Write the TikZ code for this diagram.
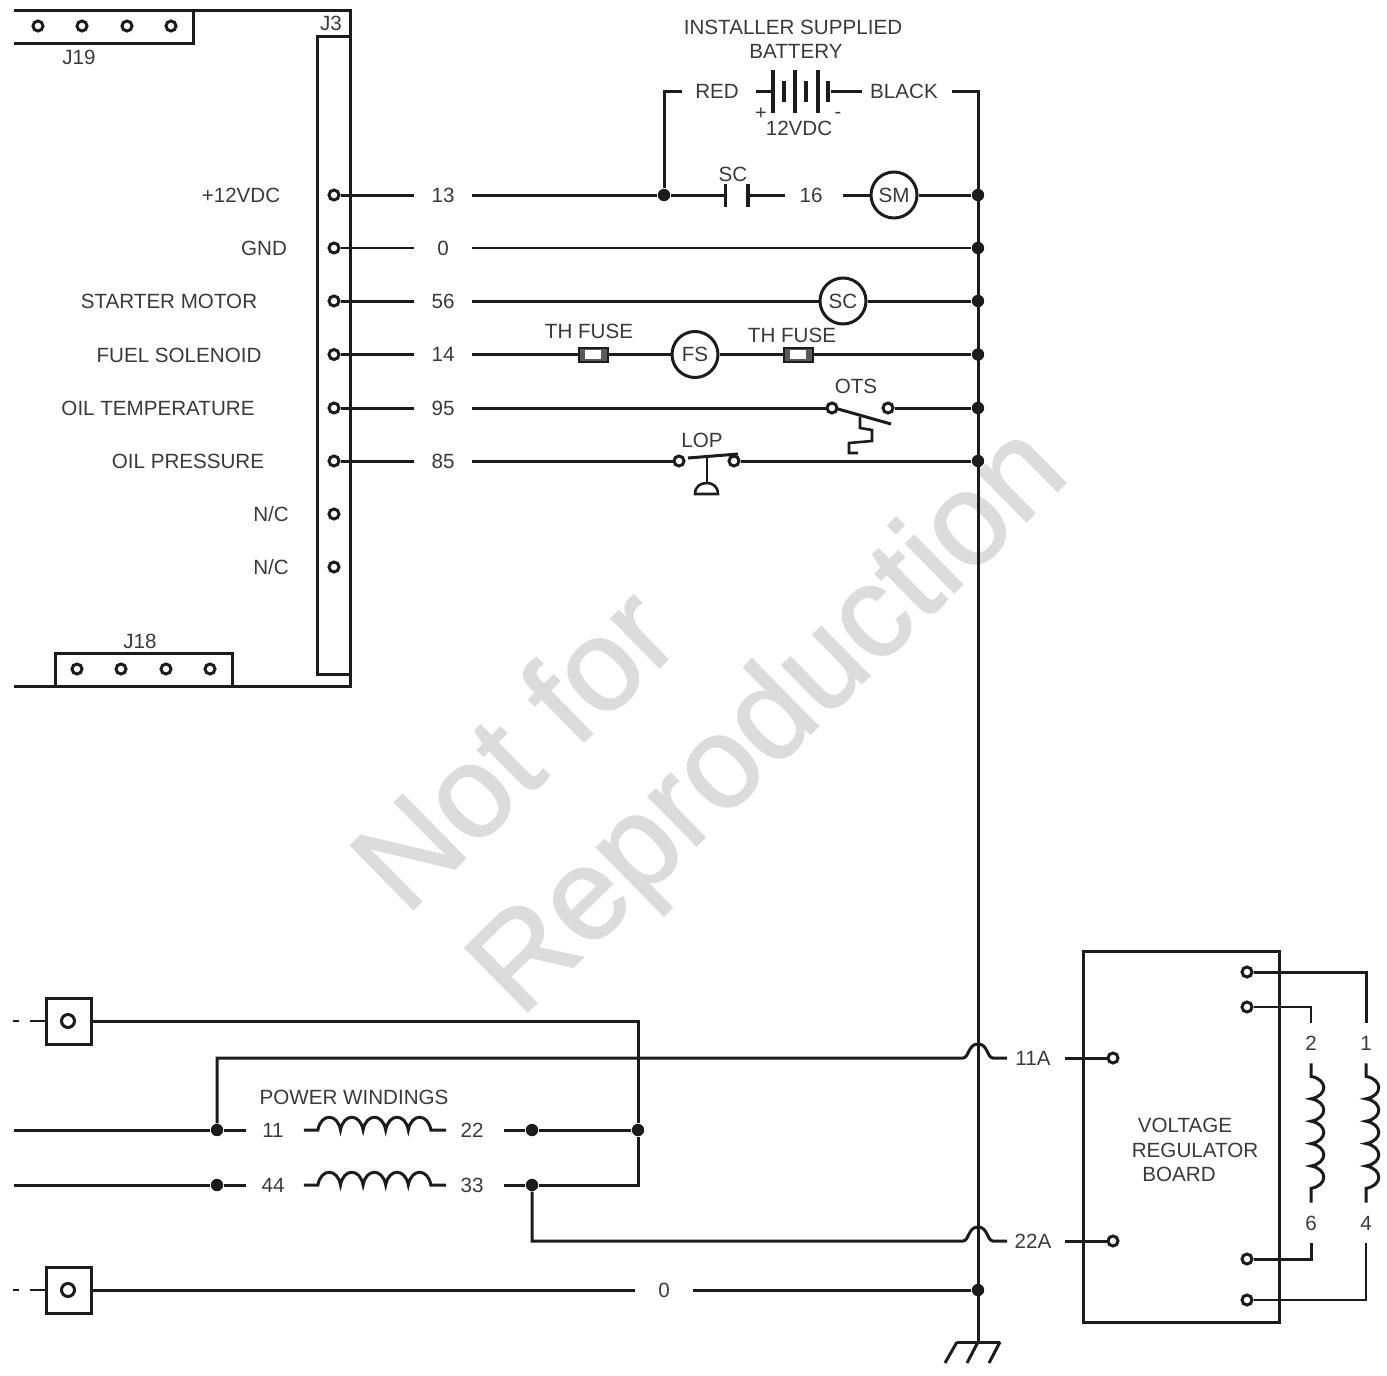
\documentclass[tikz,border=0pt]{standalone}
\usepackage{fontspec}
\setmainfont{Liberation Sans}
\newfontfamily\markfont[FakeBold=1.4]{Liberation Sans}
\definecolor{inkcol}{HTML}{1C1C1C}
\definecolor{txtcol}{HTML}{3A3A3A}
\definecolor{markcol}{HTML}{DCDCDC}

\begin{document}
\begin{tikzpicture}[x=0.5pt,y=-0.5pt,
    wire/.style={draw=inkcol,line width=1.5pt},
    thinwire/.style={draw=inkcol,line width=1pt},
    stub/.style={draw=inkcol,line width=0.9pt,dash pattern=on 7.5pt off 5.5pt on 3pt off 10pt},
    lbl/.style={font=\fontsize{10.3}{12}\selectfont,text=txtcol,inner sep=0pt},
    wnum/.style={lbl,minimum width=28.5pt,minimum height=10pt},
    term/.style={circle,draw=inkcol,line width=1.5pt,fill=white,minimum size=5pt,inner sep=0pt},
    jn/.style={circle,fill=inkcol,minimum size=6.2pt,inner sep=0pt},
    load/.style={lbl,circle,draw=inkcol,line width=1.5pt,fill=white,minimum size=23pt},
    stator/.style={draw=inkcol,line width=1.5pt,minimum width=22.5pt,minimum height=23pt,inner sep=0pt},
    plate/.style={fill=inkcol,minimum width=1.6pt,minimum height=21.5pt,inner sep=0pt},
    cell/.style={fill=inkcol,minimum width=2.4pt,minimum height=10.5pt,inner sep=0pt},
    contact/.style={fill=inkcol,minimum width=1.6pt,minimum height=11.5pt,inner sep=0pt},
    fusebody/.style={draw=inkcol,line width=1pt,fill=gray!70!black,minimum width=14.5pt,minimum height=7pt,inner sep=0pt},
    fusecore/.style={fill=white,minimum width=8pt,minimum height=4.5pt,inner sep=0pt},
    watermark/.style={rotate=44.5,anchor=base,font=\markfont\fontsize{65}{70}\selectfont,text=markcol,inner sep=0pt},
    hcoil/.style={to path={(\tikztostart) -- ++(14,0)
      .. controls +(3,-17) and +(-3,-17) .. ++(22.6,0)
      .. controls +(3,-17) and +(-3,-17) .. ++(22.6,0)
      .. controls +(3,-17) and +(-3,-17) .. ++(22.6,0)
      .. controls +(3,-17) and +(-3,-17) .. ++(22.6,0)
      .. controls +(3,-17) and +(-3,-17) .. ++(22.6,0)
      -- (\tikztotarget)}},
    vcoil/.style={to path={(\tikztostart) -- ++(0,13)
      .. controls +(17,3) and +(17,-3) .. ++(0,22.4)
      .. controls +(17,3) and +(17,-3) .. ++(0,22.4)
      .. controls +(17,3) and +(17,-3) .. ++(0,22.4)
      .. controls +(17,3) and +(17,-3) .. ++(0,22.4)
      .. controls +(17,3) and +(17,-3) .. ++(0,22.4)
      -- (\tikztotarget)}}]
  \useasboundingbox (0,0) rectangle (1387,1376);

  \node[watermark] (marka) at (545,780) {Not for};
  \node[watermark] (markb) at (796,748) {Reproduction};

  \coordinate (boardtl) at (14,10);
  \coordinate (boardtr) at (350,10);
  \coordinate (boardbr) at (350,686);
  \coordinate (boardbl) at (14,686);
  \draw[wire] (boardtl) -- (boardtr) -- (boardbr) -- (boardbl);
  \draw[wire] (14,43) -- (193,43) -- (193,10);
  \draw[wire] (350,36) -- (317,36) -- (317,674) -- (350,674);
  \draw[wire] (55,686) -- (55,653) -- (232,653) -- (232,686);
  \node[lbl] (jiii) at (331,23) {J3};
  \node[lbl] (jxix) at (79,57) {J19};
  \node[lbl] (jxviii) at (140,641) {J18};

  \foreach \name/\xx in {a/38,b/82,c/127,d/171}
    \node[term] (jxix\name) at (\xx,26) {};
  \foreach \name/\xx in {a/77,b/121,c/166,d/210}
    \node[term] (jxviii\name) at (\xx,669) {};
  \foreach \name/\yy in {vcc/195,gnd/248,sm/301,fs/354.5,ot/408,op/461,nca/514,ncb/567}
    \node[term] (t\name) at (334,\yy) {};

  \node[lbl] at (241,195) {+12VDC};
  \node[lbl] at (264,248) {GND};
  \node[lbl] at (169,301) {STARTER MOTOR};
  \node[lbl] at (179,355) {FUEL SOLENOID};
  \node[lbl] at (158,408) {OIL TEMPERATURE};
  \node[lbl] at (188,461) {OIL PRESSURE};
  \node[lbl] at (271,514) {N/C};
  \node[lbl] at (271,567) {N/C};

  \node[lbl] (instl) at (793,27) {INSTALLER SUPPLIED};
  \node[lbl] (batt) at (796,51) {BATTERY};
  \node[wnum,minimum width=37pt] (red) at (719,91) {RED\kern2pt};
  \node[wnum,minimum width=45pt] (black) at (907,91) {BLACK\kern3pt};
  \node[plate] (pa) at (773,91) {};
  \node[cell] (ca) at (784,91) {};
  \node[plate] (pb) at (795,91) {};
  \node[cell] (cb) at (806,91) {};
  \node[plate] (pc) at (818,91) {};
  \node[cell] (cc) at (828,91) {};
  \node[lbl,font=\fontsize{10}{10}\selectfont] (plus) at (761,114) {+};
  \node[lbl,font=\fontsize{10}{10}\selectfont] (minus) at (838,115) {-};
  \node[lbl] (volts) at (799,128) {12VDC};

  \node[wnum] (w13) at (443,195) {13};
  \node[wnum] (w0) at (443,248) {0};
  \node[wnum] (w56) at (443,301) {56};
  \node[wnum] (w14) at (443,354.5) {14};
  \node[wnum] (w95) at (443,408) {95};
  \node[wnum] (w85) at (443,461) {85};

  \node[jn] (jbat) at (664,195) {};
  \node[contact] (sca) at (725.5,195) {};
  \node[contact] (scb) at (748,195) {};
  \node[lbl] (sclbl) at (733,174) {SC};
  \node[wnum] (w16) at (814,195) {16\kern3pt};
  \node[load] (sm) at (894,195) {SM};
  \node[load] (sc) at (843,301) {SC};
  \node[fusebody] (fusea) at (593,354.5) {};
  \node[fusecore] (fuseac) at (593,354.5) {};
  \node[lbl] (fusealbl) at (589,331) {TH FUSE};
  \node[load] (fs) at (695,354.5) {FS};
  \node[fusebody] (fuseb) at (798,354.5) {};
  \node[fusecore] (fusebc) at (798,354.5) {};
  \node[lbl] (fuseblbl) at (792,335) {TH FUSE};
  \node[term] (otsa) at (832,408) {};
  \node[term] (otsb) at (888,408) {};
  \node[lbl] (otslbl) at (856,386) {OTS};
  \node[term] (lopa) at (679,461) {};
  \node[term] (lopb) at (734,461) {};
  \node[lbl] (loplbl) at (702,440) {LOP};

  \foreach \name/\yy in {a/195,b/248,c/301,d/354.5,e/408,f/461,g/1290}
    \node[jn] (bus\name) at (978,\yy) {};
  \coordinate (gnd) at (978,1342);
  \coordinate (gndl) at (957,1342);
  \coordinate (gndr) at (1000,1342);
  \coordinate (gndla) at (945,1363);
  \coordinate (gndma) at (967,1363);
  \coordinate (gndra) at (989,1363);

  \path[wire] (black) edge (cc);
  \draw[wire] (black) -| (gnd);
  \draw[wire] (jbat) |- (red);
  \draw[wire] (gndl) -- (gndr);
  \path[wire]
  (red) edge (pa)
  (gndl) edge (gndla)
  (gnd) edge (gndma)
  (gndr) edge (gndra)

  (tvcc) edge (w13)
  (w13) edge (jbat)
  (jbat) edge (sca)
  (scb) edge (w16)
  (w16) edge (sm)
  (sm) edge (busa)

  (tsm) edge (w56)
  (w56) edge (sc)
  (sc) edge (busc)

  (tfs) edge (w14)
  (w14) edge (fusea)
  (fusea) edge (fs)
  (fs) edge (fuseb)
  (fuseb) edge (busd)

  (tot) edge (w95)
  (w95) edge (otsa)
  (otsb) edge (buse)

  (top) edge (w85)
  (w85) edge (lopa)
  (lopb) edge (busf)
  ;
  \path[thinwire]
  (tgnd) edge (w0)
  (w0) edge (busb)
  ;

  \draw[wire] (838,409) -- (891,424);
  \draw[wire,line width=1.3pt] (860,417) -- (860,428) -- (872,430) -- (872,441) -- (849,443) -- (849,453) -- (858,453);
  \draw[wire] (688,458) -- (738,454);
  \draw[wire,line width=1.3pt] (707,457) -- (707,483);
  \draw[wire,line width=1.3pt] (695,494) -- (718,494) .. controls (718,486) and (712,483) .. (707,483) .. controls (701,483) and (695,486) .. (695,494) -- cycle;

  \node[stator] (stata) at (68.5,1021) {};
  \node[term,minimum size=6.5pt,fill=none] (stataport) at (68,1021) {};
  \coordinate (stataend) at (13,1021);
  \node[stator] (statb) at (68.5,1290) {};
  \node[term,minimum size=6.5pt,fill=none] (statbport) at (68,1290) {};
  \coordinate (statbend) at (13,1290);
  \draw[stub] (stata) -- (stataend);
  \draw[stub] (statb) -- (statbend);

  \coordinate (linea) at (14,1130);
  \coordinate (lineb) at (14,1185);
  \node[jn] (ja) at (217,1130) {};
  \node[jn] (jb) at (217,1185) {};
  \node[wnum] (w11) at (275,1130) {11\kern2pt};
  \node[wnum] (w44) at (275,1185) {44\kern2pt};
  \node[wnum] (w22) at (475,1130) {22\kern3pt};
  \node[wnum] (w33) at (475,1185) {33\kern3pt};
  \node[jn] (jc) at (532,1130) {};
  \node[jn] (jd) at (532,1185) {};
  \node[jn] (je) at (638,1130) {};
  \node[lbl] (pwlbl) at (354,1097) {POWER WINDINGS};

  \node[wnum] (w0b) at (664,1290) {0};
  \node[wnum] (w11a) at (1036,1058) {11A\kern3pt};
  \node[wnum] (w22a) at (1036,1241) {22A\kern3pt};

  \node[draw=inkcol,line width=1.5pt,minimum width=98pt,minimum height=185.5pt,inner sep=0pt] (vrb) at (1181,1136.5) {};
  \node[lbl] (vrba) at (1185,1125) {VOLTAGE};
  \node[lbl] (vrbb) at (1195,1150) {REGULATOR};
  \node[lbl] (vrbc) at (1179,1174) {BOARD};
  \node[term] (va) at (1113,1058) {};
  \node[term] (vb) at (1113,1241) {};
  \node[term] (vc) at (1247,972) {};
  \node[term] (vd) at (1247,1007) {};
  \node[term] (ve) at (1247,1259) {};
  \node[term] (vf) at (1247,1300) {};

  \node[lbl,minimum height=20pt,minimum width=8pt] (wtwo) at (1311,1043) {2};
  \node[lbl,minimum height=20pt,minimum width=8pt] (wone) at (1366,1043) {1};
  \node[lbl,minimum height=20pt,minimum width=8pt] (wsix) at (1311,1223) {6};
  \node[lbl,minimum height=20pt,minimum width=8pt] (wfour) at (1366,1223) {4};

  \path[wire]
  (linea) edge (ja)
  (ja) edge (w11)
  (lineb) edge (jb)
  (jb) edge (w44)
  (w22) edge (jc)
  (jc) edge (je)
  (w33) edge (jd)
  (w0b) edge (busg)
  (statb) edge (w0b)
  (w11a) edge (va)
  (w22a) edge (vb)
  (w11.east) edge[hcoil] (w22.west)
  (w44.east) edge[hcoil] (w33.west)
  (wone.south) edge[vcoil] (wfour.north)
  (wtwo.south) edge[vcoil] (wsix.north)
  ;

  \coordinate (hopal) at (963,1058);
  \coordinate (hopat) at (978,1044);
  \coordinate (hopar) at (993,1058);
  \coordinate (hopbl) at (963,1241);
  \coordinate (hopbt) at (978,1227);
  \coordinate (hopbr) at (993,1241);
  \draw[wire] (stata) -| (je);
  \draw[wire] (je) |- (jd);
  \draw[wire] (ja) |- (hopal) .. controls +(6,0) and +(-10,0) .. (hopat) .. controls +(10,0) and +(-6,0) .. (hopar) -- (w11a);
  \draw[wire] (jd) |- (hopbl) .. controls +(6,0) and +(-10,0) .. (hopbt) .. controls +(10,0) and +(-6,0) .. (hopbr) -- (w22a);

  \draw[wire] (vc) -| (wone);
  \draw[thinwire] (vd) -| (wtwo);
  \draw[wire] (ve) -| (wsix);
  \draw[wire,line width=1.3pt] (vf) -| (wfour);
\end{tikzpicture}
\end{document}
